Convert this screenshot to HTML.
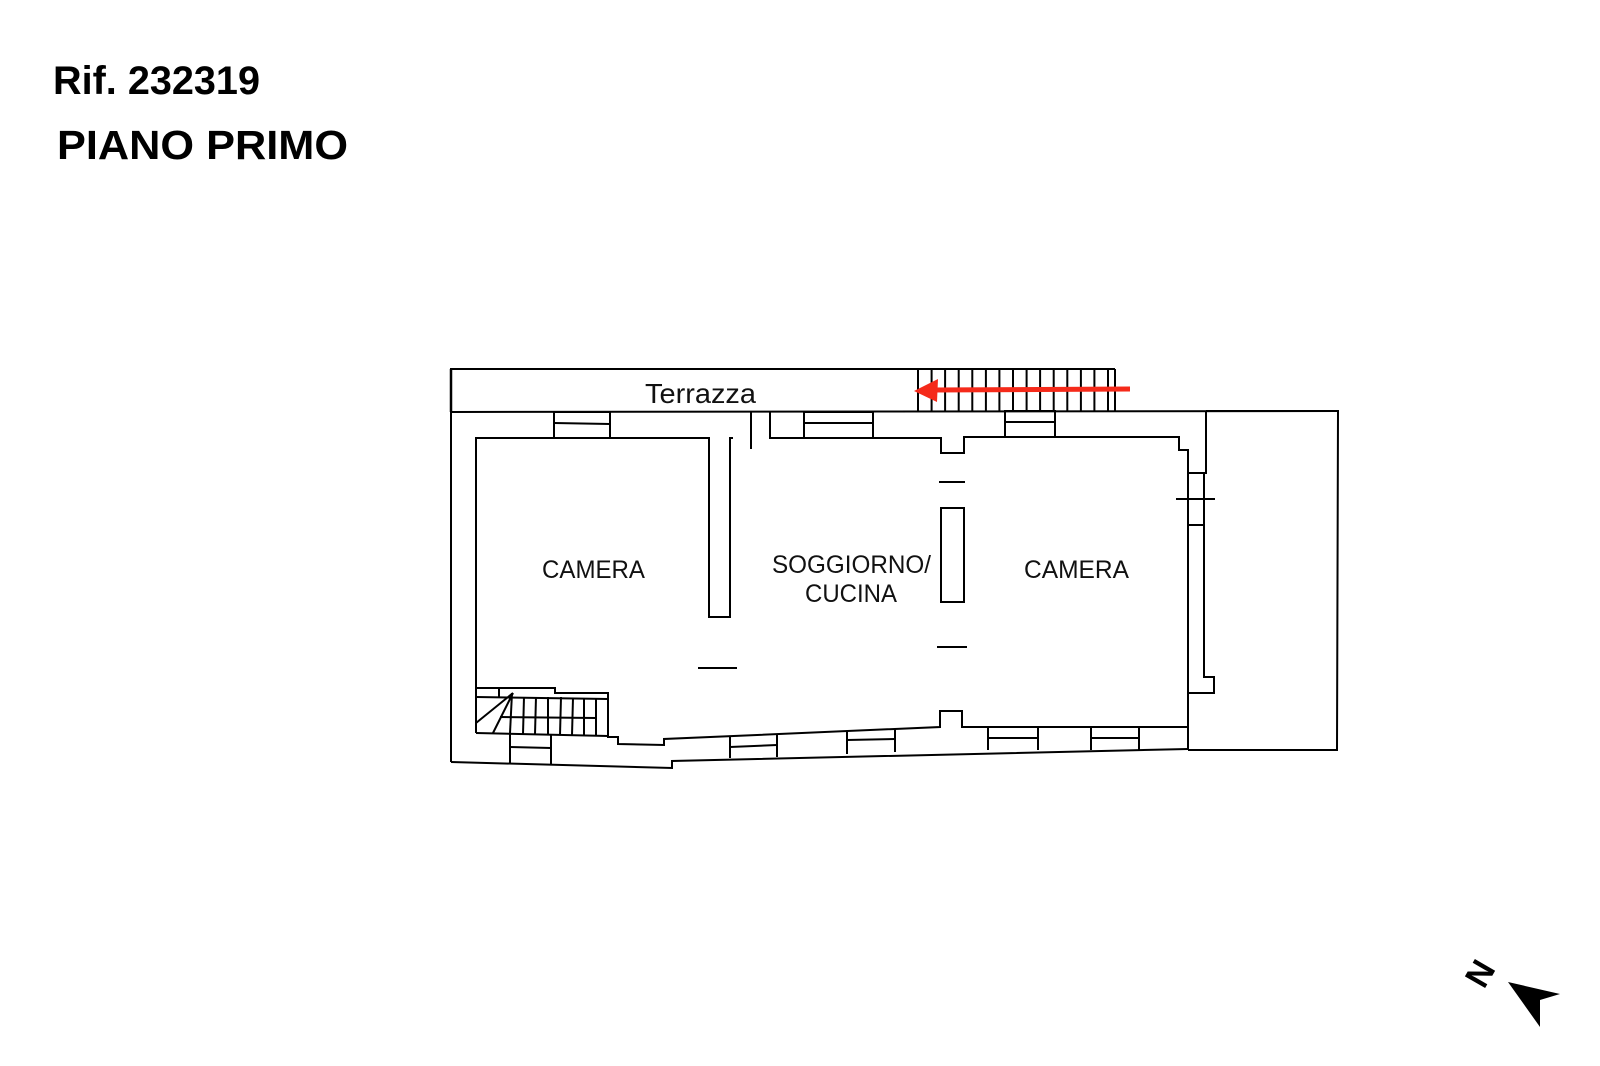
<!DOCTYPE html>
<html><head><meta charset="utf-8"><style>
html,body{margin:0;padding:0;background:#fff;}
svg{display:block;}
</style></head><body>
<svg width="1600" height="1066" viewBox="0 0 1600 1066" xmlns="http://www.w3.org/2000/svg">
<rect width="1600" height="1066" fill="#fff"/>
<g font-family="Liberation Sans, Arial, sans-serif" font-weight="bold" fill="#000">
<text x="53" y="94" font-size="40" textLength="207" lengthAdjust="spacingAndGlyphs">Rif. 232319</text>
<text x="57" y="159" font-size="41" textLength="291" lengthAdjust="spacingAndGlyphs">PIANO PRIMO</text>
</g>
<g fill="none" stroke="#000" stroke-width="2" stroke-linejoin="miter">
<polyline points="451,412 451,369 1115,369"/>
<line x1="451" y1="369" x2="451" y2="412" stroke-width="2.5"/>
<line x1="451" y1="412" x2="1338" y2="411"/>
<line x1="918" y1="369" x2="918" y2="412"/>
<line x1="931.6" y1="369" x2="931.6" y2="412"/>
<line x1="945.1" y1="369" x2="945.1" y2="412"/>
<line x1="958.7" y1="369" x2="958.7" y2="412"/>
<line x1="972.3" y1="369" x2="972.3" y2="412"/>
<line x1="985.9" y1="369" x2="985.9" y2="412"/>
<line x1="999.4" y1="369" x2="999.4" y2="412"/>
<line x1="1013" y1="369" x2="1013" y2="412"/>
<line x1="1026.6" y1="369" x2="1026.6" y2="412"/>
<line x1="1040.1" y1="369" x2="1040.1" y2="412"/>
<line x1="1053.7" y1="369" x2="1053.7" y2="412"/>
<line x1="1067.3" y1="369" x2="1067.3" y2="412"/>
<line x1="1080.9" y1="369" x2="1080.9" y2="412"/>
<line x1="1094.4" y1="369" x2="1094.4" y2="412"/>
<line x1="1108" y1="369" x2="1108" y2="412"/>
<line x1="1115" y1="369" x2="1115" y2="412"/>
<line x1="451" y1="412" x2="451" y2="762"/>
<polyline points="476,733 476,438 709,438 709,617 730,617 730,438 733,438"/>
<line x1="751" y1="412" x2="751" y2="449"/>
<rect x="554" y="412" width="56" height="26"/>
<line x1="554" y1="423" x2="610" y2="424"/>
<polyline points="770,412 770,438 941,438 941,453 964,453 964,437 1179,437 1179,450 1188,450 1188,750"/>
<rect x="804" y="412" width="69" height="26"/>
<line x1="804" y1="423" x2="873" y2="423"/>
<rect x="1005" y="411" width="50" height="26"/>
<line x1="1005" y1="422" x2="1055" y2="422"/>
<polyline points="1206,411 1206,473 1188,473"/>
<rect x="1188" y="473" width="16" height="52"/>
<line x1="1176" y1="499" x2="1215" y2="499"/>
<polyline points="1204,525 1204,677 1214,677 1214,693 1188,693"/>
<polyline points="1206,411 1338,411 1337,750 1188,750"/>
<line x1="939" y1="482" x2="965" y2="482"/>
<rect x="941" y="508" width="23" height="94"/>
<line x1="937" y1="647" x2="967" y2="647"/>
<line x1="698" y1="668" x2="737" y2="668"/>
<polyline points="476,688 555,688 555,693 608,693 608,737 618,737 618,744 664,745 664,739 940,727 940,711 962,711 962,727 1188,727"/>
<line x1="476" y1="733" x2="608" y2="736"/>
<line x1="476" y1="697" x2="608" y2="699"/>
<line x1="500" y1="717" x2="596" y2="718"/>
<line x1="499" y1="688" x2="499" y2="697"/>
<line x1="512" y1="693" x2="510" y2="733"/>
<line x1="524" y1="697" x2="523" y2="734"/>
<line x1="536" y1="697" x2="535" y2="734"/>
<line x1="548" y1="697" x2="548" y2="735"/>
<line x1="561" y1="697" x2="560" y2="735"/>
<line x1="573" y1="698" x2="572" y2="735"/>
<line x1="584" y1="698" x2="584" y2="736"/>
<line x1="596" y1="699" x2="596" y2="736"/>
<line x1="513" y1="693" x2="476" y2="723"/>
<line x1="513" y1="693" x2="493" y2="733"/>
<polyline points="510,733 510,763"/>
<polyline points="551,735 551,764"/>
<line x1="510" y1="747" x2="551" y2="748"/>
<polyline points="451,762 672,768 672,761 1188,749"/>
<line x1="730" y1="736" x2="730" y2="758"/>
<line x1="777" y1="734" x2="777" y2="757"/>
<line x1="730" y1="747" x2="777" y2="745"/>
<line x1="847" y1="731" x2="847" y2="754"/>
<line x1="895" y1="729" x2="895" y2="752"/>
<line x1="847" y1="740" x2="895" y2="739"/>
<line x1="988" y1="727" x2="988" y2="750"/>
<line x1="1038" y1="727" x2="1038" y2="750"/>
<line x1="988" y1="738" x2="1038" y2="738"/>
<line x1="1091" y1="727" x2="1091" y2="750"/>
<line x1="1139" y1="727" x2="1139" y2="750"/>
<line x1="1091" y1="738" x2="1139" y2="738"/>
</g>
<line x1="1130" y1="389" x2="932" y2="390" stroke="#f52a1a" stroke-width="5"/>
<polygon points="914,391 938,379 937,402" fill="#f52a1a"/>
<g font-family="Liberation Sans, Arial, sans-serif" fill="#111">
<text x="645" y="403" font-size="28" textLength="111" lengthAdjust="spacingAndGlyphs">Terrazza</text>
<text x="542" y="578" font-size="25" textLength="103" lengthAdjust="spacingAndGlyphs">CAMERA</text>
<text x="772" y="573" font-size="25" textLength="159" lengthAdjust="spacingAndGlyphs">SOGGIORNO/</text>
<text x="805" y="602" font-size="25" textLength="92" lengthAdjust="spacingAndGlyphs">CUCINA</text>
<text x="1024" y="578" font-size="25" textLength="105" lengthAdjust="spacingAndGlyphs">CAMERA</text>
</g>
<polygon points="1508,982 1560,994 1540,1000 1540,1027" fill="#000"/>
<text x="0" y="0" font-family="Liberation Sans, Arial, sans-serif" font-weight="bold" font-size="34" fill="#000" transform="translate(1484,990) rotate(-60)">N</text>
</svg>
</body></html>
